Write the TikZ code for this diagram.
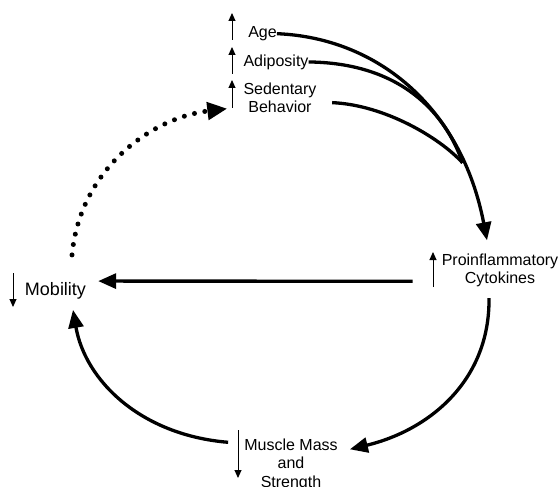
\documentclass[tikz,border=0pt]{standalone}
\usepackage{fontspec}
\setmainfont{Liberation Sans}
\usetikzlibrary{arrows.meta,calc,positioning}
\tikzset{every factor/.style={inner sep=0pt, align=center, anchor=north,
    font=\fontsize{16}{18.5}\selectfont},
  flow/.style={line width=3.3pt, -{Triangle[length=18pt,width=15pt]}},
  merge line/.style={line width=3.3pt},
  feedback/.style={line width=5pt, line cap=round, dash pattern=on 0pt off 10.5pt,
    -{Triangle[length=20pt,width=17pt]}},
  ind/.style={line width=1pt, -{Triangle[length=8pt,width=7pt]}}}

\begin{document}
\begin{tikzpicture}[x=1pt, y=-1pt]
  \useasboundingbox (0,0) rectangle (560,487);
  % factors
  \node[every factor] (age) at (262.5,26.3) {Age};
  \node[every factor] (adip) at (276,54.3) {Adiposity};
  \node[every factor] (sed) at (280,82.3) {Sedentary\\Behavior};
  \node[every factor] (cyto) at (500,253.3) {Proinflammatory\\Cytokines};
  \node[every factor, font=\fontsize{18}{20}\selectfont] (mob) at (55.5,281.9) {Mobility};
  \node[every factor] (musc) at (291,438.3) {Muscle Mass\\and\\Strength};
  % up / down indicators
  \draw[ind] (232,40) -- (232,13);
  \draw[ind] (232,74) -- (232,47);
  \draw[ind] (232,108) -- (232,80);
  \draw[ind] (433,287) -- (433,252);
  \draw[ind] (13,273) -- (13,307);
  \draw[ind] (238,430) -- (238,478);
  % risk factors -> cytokines
  \draw[flow] (age.east) .. controls (380,38) and (462,110) ..
    ($(cyto.north)+(-13,-13)$) coordinate[pos=0.78] (merge);
  \draw[merge line] (adip.east) .. controls (400,63) and (445,112) .. (merge);
  \draw[merge line] ($(sed.east)+(15.5,5)$) .. controls (385,105) and (440,138) .. (merge);
  % cytokines -> mobility, muscle
  \draw[flow] ($(cyto.west)+(-29,11)$) -- ($(mob.east)+(12,-9.4)$);
  \draw[flow] ($(cyto.south)+(-11,11)$) .. controls (490,380) and (430,430) ..
    ($(musc.north east)+(12,11)$);
  % muscle -> mobility
  \draw[flow] ($(musc.north west)+(-16,4)$) .. controls (140,435) and (85,380) ..
    ($(mob.north)+(17.5,28)$);
  % feedback loop
  \draw[feedback] ($(mob.north)+(16.5,-27)$) .. controls (80,170) and (150,118) ..
    ($(sed.west)+(-16,11)$);
\end{tikzpicture}
\end{document}
